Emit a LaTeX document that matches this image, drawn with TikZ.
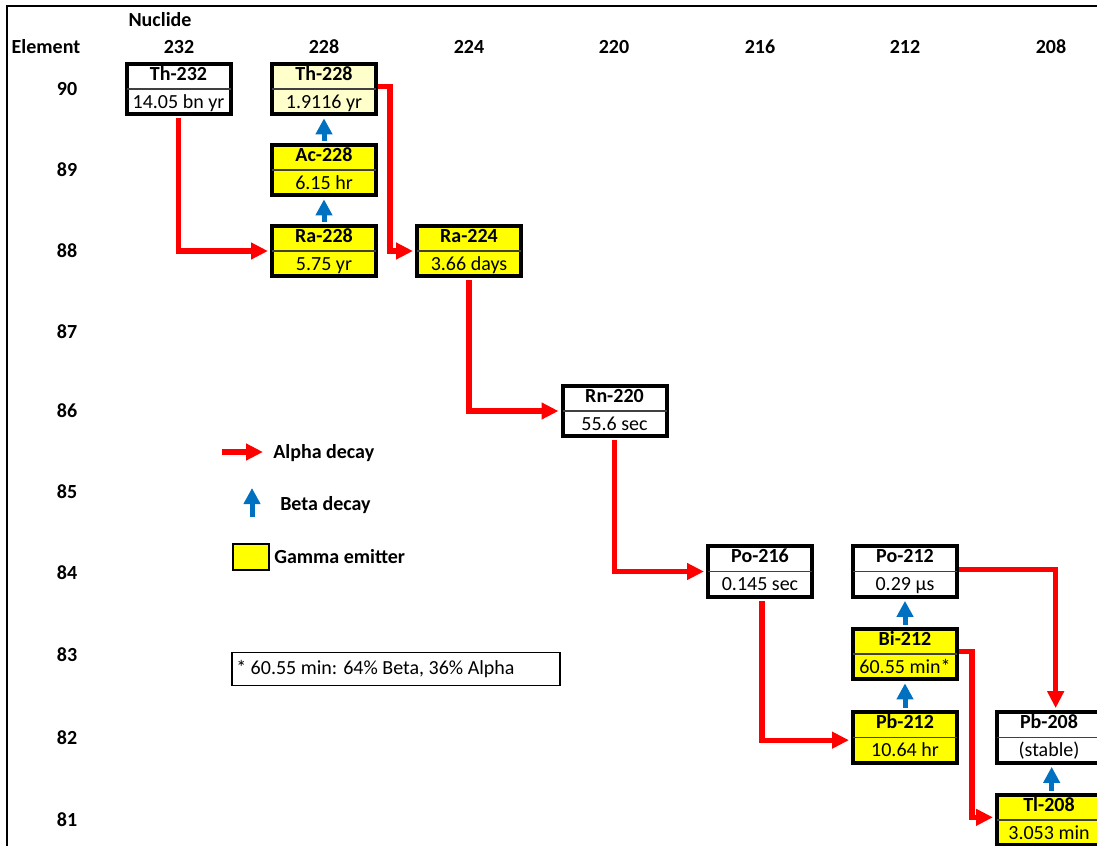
\documentclass[tikz,border=0pt]{standalone}
\usepackage{fontspec}
\setmainfont{Carlito}
\usetikzlibrary{arrows.meta}
\definecolor{alphared}{HTML}{FF0000}
\definecolor{betablue}{HTML}{0070C0}
\definecolor{gammayellow}{HTML}{FFFF00}
\definecolor{paleyellow}{HTML}{FFFFCC}
\tikzset{
  nucbox/.style={draw, line width=3pt, minimum width=78pt, minimum height=38pt, inner sep=0pt},
  divline/.style={draw=black!75, line width=0.9pt},
  toptext/.style={anchor=base, font=\bfseries\fontsize{15}{18}\selectfont, inner sep=0pt},
  bottext/.style={anchor=base, font=\fontsize{15}{18}\selectfont, inner sep=0pt},
  hdr/.style={font=\bfseries\fontsize{15}{18}\selectfont, inner sep=0pt},
  legtext/.style={anchor=base west, font=\bfseries\fontsize{15}{18}\selectfont, inner sep=0pt},
  alphaarrow/.style={draw=alphared, line width=3.9pt, line join=miter,
    -{Triangle[length=12.75pt,width=12pt]}, shorten >=1.5pt},
  betaarrow/.style={draw=betablue, line width=3.75pt,
    -{Triangle[length=12pt,width=12pt]}, shorten >=1.5pt, shorten <=1.5pt},
}
\newcommand\nuclide[6]{%
  \node[nucbox, fill=#6] (#1) at (#2,#3) {};
  \draw[divline] ([xshift=1.5pt]#1.west) -- ([xshift=-1.5pt]#1.east);
  \node[toptext] (#1t) at (#2,#3-9) {#4};
  \node[bottext] (#1b) at (#2,#3+19) {#5};
}
\begin{document}
\begin{tikzpicture}[x=0.75pt,y=-0.75pt]
\useasboundingbox (0,0) rectangle (1097,846);
\clip (0,0) rectangle (1097,846);
% frame
\draw[line width=1.5pt] (7,850) -- (7,6) -- (1100,6);
% headers
\node[hdr] (nuclidehdr) at (160,20) {Nuclide};
\node[hdr] (elementhdr) at (46,47) {Element};
\node[hdr] (c232) at (179,47) {232};
\node[hdr] (c228) at (324,47) {228};
\node[hdr] (c224) at (469,47) {224};
\node[hdr] (c220) at (614,47) {220};
\node[hdr] (c216) at (760,47) {216};
\node[hdr] (c212) at (905,47) {212};
\node[hdr] (c208) at (1051,47) {208};
% element numbers
\node[hdr] (e90) at (67,89) {90};
\node[hdr] (e89) at (67,170) {89};
\node[hdr] (e88) at (67,251) {88};
\node[hdr] (e87) at (67,332) {87};
\node[hdr] (e86) at (67,411) {86};
\node[hdr] (e85) at (67,492) {85};
\node[hdr] (e84) at (67,573) {84};
\node[hdr] (e83) at (67,655) {83};
\node[hdr] (e82) at (67,738) {82};
\node[hdr] (e81) at (67,820) {81};
% nuclides
\nuclide{th232}{178.5}{89}{Th-232}{14.05 bn yr}{white}
\nuclide{th228}{324}{89}{Th-228}{1.9116 yr}{paleyellow}
\nuclide{ac228}{324}{170}{Ac-228}{6.15 hr}{gammayellow}
\nuclide{ra228}{324}{251}{Ra-228}{5.75 yr}{gammayellow}
\nuclide{ra224}{469}{251}{Ra-224}{3.66 days}{gammayellow}
\nuclide{rn220}{614.5}{411}{Rn-220}{55.6 sec}{white}
\nuclide{po216}{760}{571.5}{Po-216}{0.145 sec}{white}
\nuclide{po212}{905}{571.5}{Po-212}{0.29 µs}{white}
\nuclide{bi212}{905}{654}{Bi-212}{60.55 min*}{gammayellow}
\nuclide{pb212}{905}{737.5}{Pb-212}{10.64 hr}{gammayellow}
\nuclide{pb208}{1049}{737.5}{Pb-208}{(stable)}{white}
\nuclide{tl208}{1049}{820}{Tl-208}{3.053 min}{gammayellow}
% alpha decays
\draw[alphaarrow, shorten <=1.5pt] (th232.south) |- (ra228.west);
\draw[alphaarrow] ([yshift=2pt]th228.east) -- ++(12,0) |- (ra224.west);
\draw[alphaarrow, shorten <=1.5pt] (ra224.south) |- (rn220.west);
\draw[alphaarrow, shorten <=1.5pt] (rn220.south) |- (po216.west);
\draw[alphaarrow, shorten <=1.5pt] ([xshift=1.5pt]po216.south) |- ([yshift=-2pt]pb212.west);
\draw[alphaarrow] ([yshift=1.5pt]po212.east) -| ([xshift=5pt]pb208.north);
\draw[alphaarrow] ([yshift=2pt]bi212.east) -- ++(13,0) |- ([yshift=2pt]tl208.west);
% beta decays
\draw[betaarrow] (ac228.north) -- (th228.south);
\draw[betaarrow] (ra228.north) -- (ac228.south);
\draw[betaarrow] (bi212.north) -- (po212.south);
\draw[betaarrow] (pb212.north) -- (bi212.south);
\draw[betaarrow] ([xshift=2pt]tl208.north) -- ([xshift=2pt]pb208.south);
% legend
\coordinate (la1) at (222,452);
\coordinate (la2) at (263,452);
\draw[alphaarrow, shorten >=0pt] (la1) -- (la2);
\node[legtext] (lalpha) at (273,458) {Alpha decay};
\coordinate (lb1) at (252,517);
\coordinate (lb2) at (252,488);
\draw[betaarrow, shorten >=0pt, shorten <=0pt] (lb1) -- (lb2);
\node[legtext] (lbeta) at (280,510) {Beta decay};
\node[draw, line width=1.5pt, fill=gammayellow, minimum width=27pt, minimum height=20pt, inner sep=0pt] (lgsq) at (251,557) {};
\node[legtext] (lgamma) at (274,563) {Gamma emitter};
% footnote
\node[draw, line width=1pt, minimum width=246pt, minimum height=24.75pt, inner sep=0pt] (fnbox) at (396,669) {};
\node[anchor=base west, font=\fontsize{15}{18}\selectfont, inner sep=0pt] (fntext) at (236,674) {* 60.55 min: 64\% Beta, 36\% Alpha};
\end{tikzpicture}
\end{document}
